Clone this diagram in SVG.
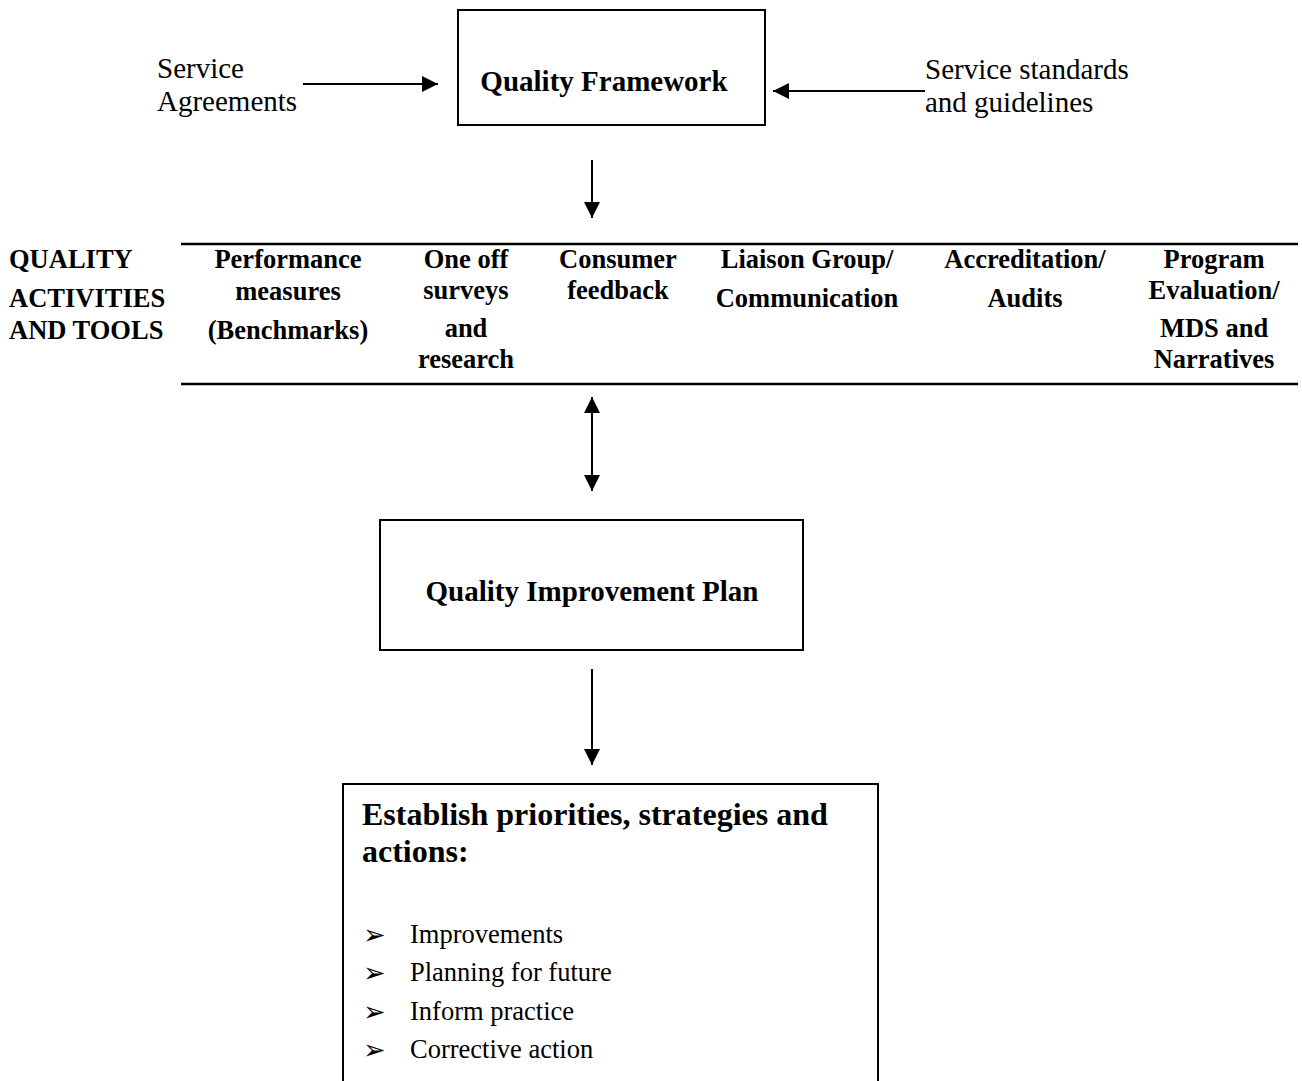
<svg xmlns="http://www.w3.org/2000/svg" width="1302" height="1081" viewBox="0 0 1302 1081">
<defs>
<marker id="ah" markerUnits="userSpaceOnUse" markerWidth="17" markerHeight="17" viewBox="0 0 17 17" refX="16" refY="8.5" orient="auto-start-reverse">
<path d="M0,0.5 L16,8.5 L0,16.5 Z" fill="#000"/>
</marker>
</defs>
<style>
.box{fill:#fff;stroke:#000;stroke-width:2}
.rule{stroke:#000;stroke-width:2.5}
.conn{stroke:#000;stroke-width:2;fill:none}
.t{font-family:"Liberation Serif","Times New Roman",serif;fill:#000}
.reg{font-size:29px}
.bt{font-size:29px;font-weight:bold}
.tb{font-size:26.5px;font-weight:bold;text-anchor:middle}
.hd{font-size:32px;font-weight:bold}
.bl{font-size:26.5px}
.bul{font-family:"DejaVu Sans",sans-serif;font-size:27px}
.mid{text-anchor:middle}
</style>
<rect width="1302" height="1081" fill="#fff"/>

<g id="connectors">
<line class="conn" x1="303" y1="84" x2="438" y2="84" marker-end="url(#ah)"/>
<line class="conn" x1="925" y1="91" x2="773" y2="91" marker-end="url(#ah)"/>
<line class="conn" x1="592" y1="160" x2="592" y2="218" marker-end="url(#ah)"/>
<line class="conn" x1="592" y1="397" x2="592" y2="491" marker-start="url(#ah)" marker-end="url(#ah)"/>
<line class="conn" x1="592" y1="669" x2="592" y2="765" marker-end="url(#ah)"/>
</g>

<g id="service-agreements">
<text class="t reg" x="157" y="78">Service</text>
<text class="t reg" x="157" y="111">Agreements</text>
</g>

<g id="service-standards">
<text class="t reg" x="925" y="79">Service standards</text>
<text class="t reg" x="925" y="112">and guidelines</text>
</g>

<g id="quality-framework">
<rect class="box" x="458" y="10" width="307" height="115"/>
<text class="t bt mid" x="604" y="91">Quality Framework</text>
</g>

<g id="quality-activities">
<line class="rule" x1="181" y1="244" x2="1298" y2="244"/>
<line class="rule" x1="181" y1="384" x2="1298" y2="384"/>
<text class="t" style="font-size:26.5px;font-weight:bold" x="9" y="268">QUALITY</text>
<text class="t" style="font-size:26.5px;font-weight:bold" x="9" y="307">ACTIVITIES</text>
<text class="t" style="font-size:26.5px;font-weight:bold" x="9" y="339">AND TOOLS</text>
<text class="t tb" x="288" y="268">Performance</text>
<text class="t tb" x="288" y="300">measures</text>
<text class="t tb" x="288" y="339">(Benchmarks)</text>
<text class="t tb" x="466" y="268">One off</text>
<text class="t tb" x="466" y="299">surveys</text>
<text class="t tb" x="466" y="337">and</text>
<text class="t tb" x="466" y="368">research</text>
<text class="t tb" x="618" y="268">Consumer</text>
<text class="t tb" x="618" y="299">feedback</text>
<text class="t tb" x="807" y="268">Liaison Group/</text>
<text class="t tb" x="807" y="307">Communication</text>
<text class="t tb" x="1025" y="268">Accreditation/</text>
<text class="t tb" x="1025" y="307">Audits</text>
<text class="t tb" x="1214" y="268">Program</text>
<text class="t tb" x="1214" y="299">Evaluation/</text>
<text class="t tb" x="1214" y="337">MDS and</text>
<text class="t tb" x="1214" y="368">Narratives</text>
</g>

<g id="quality-improvement-plan">
<rect class="box" x="380" y="520" width="423" height="130"/>
<text class="t bt mid" x="592" y="601">Quality Improvement Plan</text>
</g>

<g id="priorities">
<rect class="box" x="343" y="784" width="535" height="310"/>
<text class="t hd" x="362" y="825">Establish priorities, strategies and</text>
<text class="t hd" x="362" y="862">actions:</text>
<text class="bul" x="363" y="944">➢</text>
<text class="t bl" x="410" y="943">Improvements</text>
<text class="bul" x="363" y="982">➢</text>
<text class="t bl" x="410" y="981">Planning for future</text>
<text class="bul" x="363" y="1021">➢</text>
<text class="t bl" x="410" y="1020">Inform practice</text>
<text class="bul" x="363" y="1059">➢</text>
<text class="t bl" x="410" y="1058">Corrective action</text>
</g>
</svg>
